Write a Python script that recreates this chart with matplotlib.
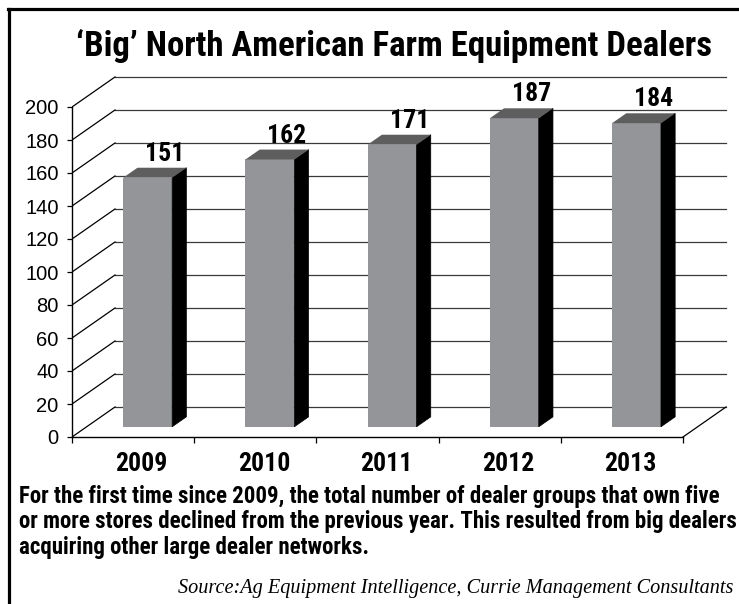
import numpy as np
import matplotlib.pyplot as plt
from matplotlib.patches import Polygon
from matplotlib.lines import Line2D

# datos
years = ['2009', '2010', '2011', '2012', '2013']
dealers = [151, 162, 171, 187, 184]
yticks = list(range(0, 201, 20))

title = '\u2018Big\u2019 North American Farm Equipment Dealers'
caption = ['For the first time since 2009, the total number of dealer groups that own five',
           'or more stores declined from the previous year. This resulted from big dealers',
           'acquiring other large dealer networks.']
source = 'Source:Ag Equipment Intelligence, Currie Management Consultants'

narrow = ['Roboto Condensed', 'Archivo Narrow', 'Barlow Condensed', 'DejaVu Sans']

# profundidad del "3D"
dx, dy = 0.352, 18.2      # desplazamiento de la pared del fondo
f0, fd = 0.34, 0.33       # posicion y grosor de la barra en profundidad
w = 0.40

fig = plt.figure(figsize=(7.39, 6.04), dpi=100)
ax = fig.add_axes([72/739, 1 - 437/604, 667/739, 367/604])
n = len(years)
x = np.arange(n)
ax.set_xlim(-0.5, -0.5 + 667/122.2)
ax.set_ylim(0, 367/1.65)

# pared del fondo y lineas diagonales
for v in yticks:
    ax.plot([-0.5 + dx, n - 0.5 + dx], [v + dy, v + dy], color='#3a3a3a', lw=0.9, zorder=1)
    ax.plot([-0.5, -0.5 + dx], [v, v + dy], color='black', lw=0.9, zorder=1)
ax.plot([n - 0.5, n - 0.5 + dx], [0, dy], color='black', lw=0.9, zorder=1)

# barras
for i, v in enumerate(dealers):
    x0 = x[i] + f0*dx - w/2
    x1 = x0 + w
    yb = f0*dy
    yt = v + f0*dy
    ax.add_patch(Polygon([(x0, yb), (x1, yb), (x1, yt), (x0, yt)],
                         closed=True, fc='#939598', ec='none', zorder=3))
    ax.add_patch(Polygon([(x1, yb), (x1 + fd*dx, yb + fd*dy), (x1 + fd*dx, yt + fd*dy), (x1, yt)],
                         closed=True, fc='black', ec='black', lw=0.5, zorder=3))
    ax.add_patch(Polygon([(x0, yt), (x1, yt), (x1 + fd*dx, yt + fd*dy), (x0 + fd*dx, yt + fd*dy)],
                         closed=True, fc='#5e5e5e', ec='none', zorder=3))
    ax.text(x[i] + f0*dx + 0.14, yt + fd*dy + 4.2, str(v), ha='center', va='baseline',
            fontsize=18.5, fontweight='bold', family=narrow, zorder=4)

# ejes
for s in ['top', 'right']:
    ax.spines[s].set_visible(False)
ax.spines['left'].set_bounds(0, 200)
ax.spines['bottom'].set_bounds(-0.5, n - 0.5)
ax.spines['left'].set_linewidth(1)
ax.spines['bottom'].set_linewidth(1)
ax.set_yticks(yticks)
ax.set_yticklabels([str(t) for t in yticks], fontsize=14.5, family='Liberation Sans')
ax.tick_params(axis='y', length=3.6, width=0.9, pad=6)
ax.set_xticks(np.arange(-0.5, n, 1.0))
ax.set_xticklabels([])
ax.tick_params(axis='x', which='major', length=4.5, width=0.9)
ax.set_xticks(x + 0.07, minor=True)
ax.set_xticklabels(years, minor=True, fontsize=18.5, fontweight='bold', family=narrow)
ax.tick_params(axis='x', which='minor', length=0, pad=11)

# textos
fig.text(394/739, 1 - 46/604, title, ha='center', va='center', fontsize=25,
         fontweight='bold', family=narrow)
for k, line in enumerate(caption):
    fig.text(19/739, 1 - (496 + 25.7*k)/604, line, ha='left', va='center',
             fontsize=16.5, fontweight='bold', family=narrow)
fig.text(733/739, 1 - 588/604, source, ha='right', va='center', fontsize=14.6,
         style='italic', family='Liberation Serif')

# marco
fig.add_artist(Line2D([8/739, 1], [1 - 9/604, 1 - 9/604], color='black', lw=2.3))
fig.add_artist(Line2D([8.5/739, 8.5/739], [0, 1 - 9/604], color='black', lw=2.3))

fig.savefig('out.png', dpi=100)
